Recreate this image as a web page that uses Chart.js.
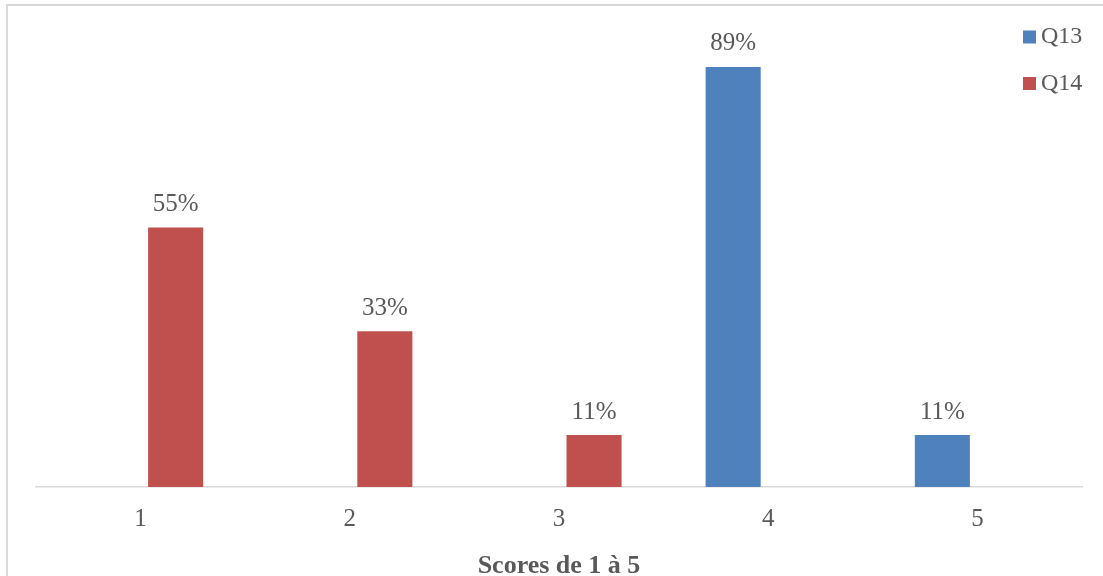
<!DOCTYPE html>
<html>
<head>
<meta charset="utf-8">
<script src="https://cdn.jsdelivr.net/npm/chart.js@4"></script>
<style>
  html, body { margin: 0; padding: 0; background: #ffffff; }
  #wrap { width: 1103px; height: 576px; position: relative; }
</style>
</head>
<body>
<div id="wrap"><canvas id="c" width="1103" height="576"></canvas></div>
<script>
const categories = ['1', '2', '3', '4', '5'];
const seriesNames = ['Q13', 'Q14'];
const q13 = [0, 0, 0, 89, 11];
const q14 = [55, 33, 11, 0, 0];
const seriesColors = ['#4f81bd', '#c0504d'];
const axisTitle = 'Scores de 1 à 5';

const FONT = "'Liberation Serif', 'Times New Roman', serif";
const TEXT = '#595959';

// percent labels above each non-zero bar
const valueLabels = {
  id: 'valueLabels',
  afterDatasetsDraw(chart) {
    const ctx = chart.ctx;
    ctx.save();
    ctx.font = '25px ' + FONT;
    ctx.fillStyle = TEXT;
    ctx.textAlign = 'center';
    ctx.textBaseline = 'middle';
    chart.data.datasets.forEach((ds, di) => {
      const meta = chart.getDatasetMeta(di);
      meta.data.forEach((bar, i) => {
        const v = ds.data[i];
        if (!v) return;
        ctx.fillText(v + '%', bar.x, bar.y - 23);
      });
    });
    ctx.restore();
  }
};

// legend in the top-right corner plus the outer frame
const cornerLegend = {
  id: 'cornerLegend',
  afterDraw(chart) {
    const ctx = chart.ctx;
    ctx.save();
    ctx.strokeStyle = '#d9d9d9';
    ctx.lineWidth = 2;
    ctx.strokeRect(7, 5, 1300, 1300);
    ctx.font = '24px ' + FONT;
    ctx.textBaseline = 'middle';
    ctx.textAlign = 'left';
    chart.data.datasets.forEach((ds, i) => {
      const cy = 37 + i * 46.5;
      ctx.fillStyle = ds.backgroundColor;
      ctx.fillRect(1023, cy - 6.5, 13, 13);
      ctx.fillStyle = TEXT;
      ctx.fillText(ds.label, 1041, cy);
    });
    ctx.restore();
  }
};

new Chart(document.getElementById('c'), {
  type: 'bar',
  data: {
    labels: categories,
    datasets: [
      { label: seriesNames[0], data: q13, backgroundColor: seriesColors[0] },
      { label: seriesNames[1], data: q14, backgroundColor: seriesColors[1] }
    ]
  },
  options: {
    responsive: false,
    animation: false,
    devicePixelRatio: 1,
    layout: { padding: { left: 36, right: 21, top: 15, bottom: 0 } },
    datasets: { bar: { categoryPercentage: 0.67, barPercentage: 0.786 } },
    plugins: { legend: { display: false }, tooltip: { enabled: false } },
    scales: {
      x: {
        grid: { display: false, drawTicks: false },
        border: { display: true, color: '#d9d9d9', width: 1.5 },
        ticks: { color: TEXT, font: { family: FONT, size: 25 }, padding: 17 },
        title: { display: true, text: axisTitle, color: TEXT, font: { family: FONT, size: 26, weight: 'bold', lineHeight: 0.77 }, padding: { top: 0, bottom: 0 } },
        afterFit(scale) { scale.height = 89; }
      },
      y: {
        display: false,
        min: 0,
        max: 100
      }
    }
  },
  plugins: [valueLabels, cornerLegend]
});
</script>
</body>
</html>
